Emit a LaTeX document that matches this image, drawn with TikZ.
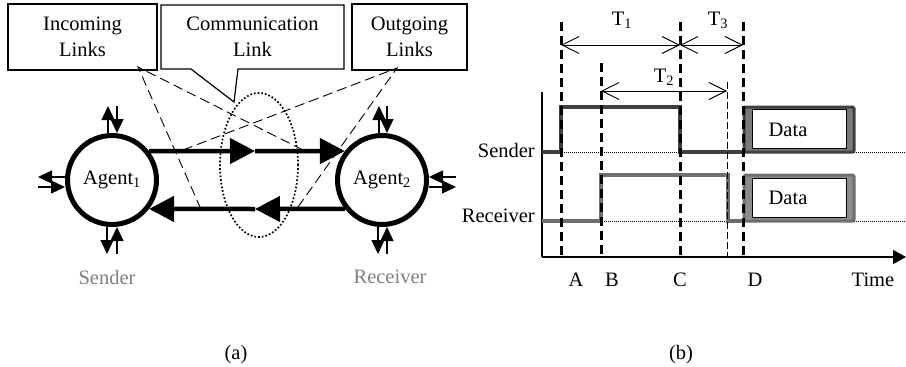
\documentclass[tikz,border=0pt]{standalone}
\usepackage{fontspec}
\setmainfont{Liberation Serif}
\usetikzlibrary{arrows.meta,calc}
\definecolor{sigA}{HTML}{404040}
\definecolor{sigB}{HTML}{6E6E6E}
\definecolor{bandA}{HTML}{7A7A7A}
\definecolor{bandB}{HTML}{8C8C8C}
\definecolor{lblgray}{HTML}{808080}
\begin{document}
\begin{tikzpicture}[x=1pt,y=-1pt,font=\fontsize{20.5}{26}\selectfont,
  agent/.style={circle,draw,line width=5pt,minimum size=89pt,inner sep=0pt},
  callbox/.style={draw,line width=1.2pt,align=center,inner sep=0pt},
  smallarr/.style={line width=1.3pt,-{Triangle[length=14pt,width=13pt]}},
  bigarr/.style={line width=4.5pt,-{Triangle[length=25pt,width=25pt]}},
  callline/.style={line width=0.9pt,dash pattern=on 10pt off 5pt},
  vdash/.style={line width=3pt,dash pattern=on 9pt off 5pt},
  thindash/.style={line width=1pt,dash pattern=on 7pt off 3pt},
  tarr/.style={line width=0.9pt,{Straight Barb[length=17pt,width=17pt]}-{Straight Barb[length=17pt,width=17pt]}},
  baseln/.style={line width=0.7pt,dash pattern=on 0.7pt off 1.3pt},
  sigline/.style={line width=3.5pt,line join=miter},
  lbl/.style={inner sep=0pt}
]
\useasboundingbox (0,0) rectangle (906,367);

% ---------------- (a) ----------------
\node[callbox,minimum width=149pt,minimum height=66pt] (inc) at (82.5,37) {Incoming\\Links};
\draw[line width=1.2pt] (161,5) -- (344,5) -- (344,69) -- (238,69) -- (234,102) -- (191,69) -- (161,69) -- cycle;
\node[align=center,inner sep=0pt] (comm) at (252.5,37) {Communication\\Link};
\node[callbox,minimum width=115pt,minimum height=66pt] (outg) at (409.5,37) {Outgoing\\Links};

\node[agent] (a1) at (112,180) {Agent\textsubscript{1}};
\node[agent] (a2) at (382,180) {Agent\textsubscript{2}};

% dotted ellipse
\draw[line width=1.7pt,dotted] (259,165) ellipse [x radius=39pt,y radius=72pt];

% big arrows
\coordinate (mt) at (255,151);
\coordinate (mb) at (255,209);
\draw[bigarr] (a1.38) -- (mt);
\draw[bigarr] (mt) -- (a2.142);
\draw[bigarr] (a2.218) -- (mb);
\draw[bigarr] (mb) -- (a1.322);

% callout dashed lines
\coordinate (inp) at (138,67);
\coordinate (outp) at (397,68);
\coordinate (i1) at (303,150);
\coordinate (i2) at (200,207);
\coordinate (o1) at (183,150);
\coordinate (o2) at (298,207);
\draw[callline] (i1) -- (inp) -- (i2);
\draw[callline] (o1) -- (outp) -- (o2);

% small arrows Agent1
\draw[smallarr] ($(a1)+(-4,-47)$) -- ($(a1)+(-4,-74)$);
\draw[smallarr] ($(a1)+(5,-74)$) -- ($(a1)+(5,-47)$);
\draw[smallarr] ($(a1)+(-5,47)$) -- ($(a1)+(-5,74)$);
\draw[smallarr] ($(a1)+(5,74)$) -- ($(a1)+(5,47)$);
\draw[smallarr] ($(a1)+(-47,-3)$) -- ($(a1)+(-74,-3)$);
\draw[smallarr] ($(a1)+(-74,7)$) -- ($(a1)+(-47,7)$);
% small arrows Agent2
\draw[smallarr] ($(a2)+(-3,-47)$) -- ($(a2)+(-3,-74)$);
\draw[smallarr] ($(a2)+(5,-74)$) -- ($(a2)+(5,-47)$);
\draw[smallarr] ($(a2)+(-4,47)$) -- ($(a2)+(-4,74)$);
\draw[smallarr] ($(a2)+(5,74)$) -- ($(a2)+(5,47)$);
\draw[smallarr] ($(a2)+(74,-3)$) -- ($(a2)+(47,-3)$);
\draw[smallarr] ($(a2)+(47,7)$) -- ($(a2)+(74,7)$);

\node[text=lblgray] (snd) at (107,277) {Sender};
\node[text=lblgray] (rcv) at (390,277) {Receiver};
\node (capa) at (236,355) {(a)};

% ---------------- (b) ----------------
\draw[baseln] (542,152) -- (906,152);
\draw[baseln] (542,221) -- (906,221);

\coordinate (ytop) at (542,92);
\coordinate (org) at (542,257);
\coordinate (xend) at (906,257);
\draw[line width=1.4pt] (ytop) -- (org);
\draw[line width=1.4pt,-{Triangle[length=13pt,width=14pt]}] (org) -- (xend);

% signals
\draw[sigline,sigA] (542,152) -- (561,152) -- (561,107) -- (680,107) -- (680,152) -- (744,152);
\draw[sigline,sigB] (542,221) -- (601,221) -- (601,175) -- (728,175) -- (728,221) -- (744,221);

% data boxes
\draw[sigA,line width=3pt,fill=bandA,rounded corners=1.5pt] (744,107) rectangle (854,152);
\draw[fill=white,line width=0.9pt] (752,109) rectangle (846,148);
\node (data1) at (788,130) {Data};
\draw[sigB,line width=3pt,fill=bandB,rounded corners=1.5pt] (744,175) rectangle (854,221);
\draw[fill=white,line width=0.9pt] (752,178) rectangle (846,217);
\node (data2) at (788,198) {Data};

% dashed verticals
\coordinate (At) at (561,22); \coordinate (Ab) at (561,257);
\coordinate (Bt) at (601,63); \coordinate (Bb) at (601,257);
\coordinate (Ct) at (680,22); \coordinate (Cb) at (680,257);
\coordinate (Dt) at (743,22); \coordinate (Db) at (743,257);
\coordinate (Et) at (727,82); \coordinate (Eb) at (727,257);
\draw[vdash] (At) -- (Ab);
\draw[vdash] (Bt) -- (Bb);
\draw[vdash] (Ct) -- (Cb);
\draw[vdash] (Dt) -- (Db);
\draw[thindash] (Et) -- (Eb);

% time spans
\coordinate (t1a) at (561,45); \coordinate (t1b) at (680,45);
\coordinate (t3b) at (743,45);
\coordinate (t2a) at (601,91); \coordinate (t2b) at (727,91);
\draw[tarr] (t1a) -- (t1b);
\draw[tarr] (t1b) -- (t3b);
\draw[tarr] (t2a) -- (t2b);
\node (T1) at (622,20) {T\textsubscript{1}};
\node (T3) at (718,20) {T\textsubscript{3}};
\node (T2) at (664,77) {T\textsubscript{2}};

% labels
\node[anchor=base east,lbl] (sl) at (535,157) {Sender};
\node[anchor=base east,lbl] (rl) at (535,222) {Receiver};
\node (lA) at (576,280) {A};
\node (lB) at (612,280) {B};
\node (lC) at (680,280) {C};
\node (lD) at (755,280) {D};
\node (lT) at (873,280) {Time};
\node (capb) at (681,355) {(b)};
\end{tikzpicture}
\end{document}
